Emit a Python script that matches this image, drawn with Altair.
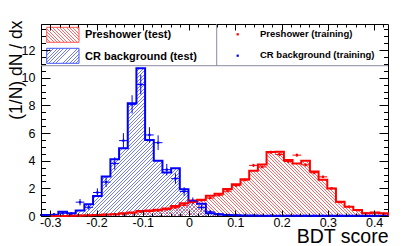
import altair as alt
import pandas as pd

# ---------------- data ----------------
x_lo, x_hi = -0.32, 0.43
n_bins = 40
y_max = 13.88

blue_test = [0.07, 0.07, 0.30, 0.20, 0.40, 0.85, 1.45, 2.85, 4.10, 4.90,
             8.15, 10.68, 5.50, 4.00, 3.15, 3.45, 1.93, 1.05, 0.88, 0.19,
             0.12, 0.07, 0.05, 0.04, 0.03, 0.02, 0.02, 0.02, 0.02, 0.02,
             0.02, 0.02, 0.01, 0.01, 0.01, 0.01, 0.01, 0.01, 0.01, 0.01]

red_test = [0.0, 0.0, 0.0, 0.02, 0.03, 0.05, 0.08, 0.10, 0.12, 0.20,
            0.26, 0.36, 0.40, 0.45, 0.55, 0.72, 0.93, 1.12, 1.17, 1.47,
            1.60, 1.95, 2.30, 2.65, 3.28, 3.72, 4.63, 4.65, 4.05, 3.80,
            4.00, 3.22, 2.62, 1.98, 1.03, 0.66, 0.44, 0.20, 0.25, 0.20]

blue_train = [0.03, 0.12, 0.20, 0.17, 1.00, 0.63, 1.70, 2.45, 3.80, 5.45,
              8.07, 9.50, 5.86, 5.30, 3.35, 2.70, 1.77, 1.10, 0.62, 0.30,
              0.12, 0.08, 0.05, 0.03, 0.02, 0.02, 0.02, 0.01, 0.01, 0.01,
              0.01, 0.01, 0.01, 0.01, 0.01, 0.01, 0.01, 0.01, 0.01, 0.01]
blue_err = [0.04, 0.08, 0.10, 0.10, 0.23, 0.18, 0.30, 0.36, 0.45, 0.54,
            0.66, 0.71, 0.56, 0.53, 0.42, 0.38, 0.31, 0.24, 0.18, 0.13,
            0.08, 0.06, 0.05, 0.04, 0.03, 0.03, 0.03, 0.02, 0.02, 0.02,
            0.02, 0.02, 0.02, 0.02, 0.02, 0.02, 0.02, 0.02, 0.02, 0.02]

red_train = [None, None, None, 0.01, 0.02, 0.04, 0.06, 0.09, 0.13, 0.15,
             0.22, 0.30, 0.33, 0.38, 0.47, 0.60, 0.78, 0.98, 1.12, 1.30,
             1.50, 1.80, 2.20, 2.60, 3.66, 3.55, 4.60, 4.45, 3.94, 4.40,
             3.70, 3.13, 2.83, 2.00, 1.00, 0.68, 0.42, 0.20, 0.20, 0.17]
red_err = [0.0, 0.0, 0.0, 0.01, 0.01, 0.01, 0.02, 0.02, 0.02, 0.03,
           0.03, 0.03, 0.04, 0.04, 0.04, 0.05, 0.05, 0.06, 0.06, 0.07,
           0.07, 0.08, 0.09, 0.10, 0.11, 0.11, 0.13, 0.13, 0.12, 0.13,
           0.12, 0.11, 0.10, 0.08, 0.06, 0.05, 0.04, 0.03, 0.03, 0.03]

x_major = [-0.3, -0.2, -0.1, 0.0, 0.1, 0.2, 0.3, 0.4]
x_minor = [round(x_lo + 0.02 * i, 2) for i in range(38)]
y_major = [0, 2, 4, 6, 8, 10, 12]
y_minor = [0.5 * i for i in range(28)]

legend_left = ["Preshower (test)", "CR background (test)"]
legend_right = ["Preshower (training)", "CR background (training)"]
x_title = "BDT score"
y_title = "(1/N) dN / dx"

# ---------------- helpers ----------------
W, H = 347, 192
FONT = "Liberation Sans"
RED, BLUE = "#ff0000", "#0000ff"
RED_HATCH, BLUE_HATCH = "#ff6a6a", "#7480ee"

bw = (x_hi - x_lo) / n_bins
edges = [round(x_lo + bw * i, 6) for i in range(n_bins + 1)]
centers = [round(e + bw / 2, 6) for e in edges[:-1]]

xs = alt.Scale(domain=[x_lo, x_hi], nice=False, zero=False)
ys = alt.Scale(domain=[0, y_max], nice=False, zero=False)


def hatch(color, w, h, period, slash):
    n = max(1, int(round((w + h) / period)))
    lw = 1.0 / period
    clear = "rgba(255,255,255,0)"
    stops = []
    for k in range(n):
        a = round(k / n, 6)
        b = round((k + lw) / n, 6)
        c = round((k + 1) / n, 6)
        stops += [{"offset": a, "color": color}, {"offset": b, "color": color},
                  {"offset": b, "color": clear}, {"offset": c, "color": clear}]
    s = (w + h) / (w * w + h * h)
    if slash:
        return {"gradient": "linear", "x1": 0, "y1": 0, "x2": w * s, "y2": h * s, "stops": stops}
    return {"gradient": "linear", "x1": 0, "y1": 1, "x2": w * s, "y2": 1 - h * s, "stops": stops}


def step_df(vals):
    return pd.DataFrame({"x": edges, "y": vals + [vals[-1]]})


def outline_df(vals):
    xx = [edges[0]] + edges + [edges[-1]]
    yy = [0.0] + vals + [vals[-1]] + [0.0]
    return pd.DataFrame({"x": xx, "y": yy, "i": list(range(len(xx)))})


def points_df(vals, errs):
    rows = []
    for i, v in enumerate(vals):
        if v is None:
            continue
        rows.append({"x": centers[i], "lo": edges[i], "hi": edges[i + 1], "y": v,
                     "ylo": max(0.0, v - errs[i]), "yhi": v + errs[i]})
    return pd.DataFrame(rows)


def tick_axis(orient, values, size):
    return alt.Axis(orient=orient, values=values, labels=False, domain=False, grid=False,
                    ticks=True, tickSize=size, offset=-size, tickColor="black",
                    tickWidth=1, title="", zindex=1)


NOAX = None

x_label_axis = alt.Axis(
    orient="bottom", values=x_major,
    labelExpr="datum.value == 0 ? '0' : (datum.value < 0 ? '-' : '') + format(abs(datum.value), '.1f')",
    ticks=False, tickSize=0, domain=False, grid=False,
    labelFont=FONT, labelFontSize=12.5, labelColor="black", labelPadding=0,
    title=x_title, titleFont=FONT, titleFontSize=19.5, titleFontWeight="normal",
    titleColor="black", titleX=W, titleY=26.5, titleAlign="right",
    titleBaseline="alphabetic", titleAnchor="end")

y_label_axis = alt.Axis(
    orient="left", values=y_major, ticks=False, tickSize=0, domain=False, grid=False,
    labelFont=FONT, labelFontSize=12.5, labelColor="black", labelPadding=6,
    title=y_title, titleFont=FONT, titleFontSize=17.5, titleFontWeight="normal",
    titleColor="black", titleX=-20, titleY=-4, titleAlign="right", titleAngle=270,
    titleBaseline="alphabetic")


def X(field, axis):
    if axis is None:
        return alt.X(field, type="quantitative", scale=xs, axis=None)
    return alt.X(field, type="quantitative", scale=xs, axis=axis)


def Y(field, axis):
    if axis is None:
        return alt.Y(field, type="quantitative", scale=ys, axis=None)
    return alt.Y(field, type="quantitative", scale=ys, axis=axis)


red_px = max(red_test) / y_max * H
blue_px = max(blue_test) / y_max * H

red_area = alt.Chart(step_df(red_test)).mark_area(
    interpolate="step-after", fill=hatch(RED_HATCH, W, red_px, 3.3, False)
).encode(x=X("x", x_label_axis), y=Y("y", y_label_axis))

blue_area = alt.Chart(step_df(blue_test)).mark_area(
    interpolate="step-after", fill=hatch(BLUE_HATCH, W, blue_px, 3.5, True)
).encode(x=X("x", tick_axis("bottom", x_major, 6)), y=Y("y", tick_axis("left", y_major, 9)))

blue_line = alt.Chart(outline_df(blue_test)).mark_line(
    interpolate="step-after", color=BLUE, strokeWidth=2
).encode(x=X("x", tick_axis("bottom", x_minor, 3)), y=Y("y", tick_axis("left", y_minor, 4.5)),
         order="i:Q")

red_line = alt.Chart(outline_df(red_test)).mark_line(
    interpolate="step-after", color=RED, strokeWidth=2
).encode(x=X("x", tick_axis("top", x_major, 6)), y=Y("y", tick_axis("right", y_major, 9)),
         order="i:Q")

bp = points_df(blue_train, blue_err)
rp = points_df(red_train, red_err)

blue_h = alt.Chart(bp).mark_rule(color=BLUE, strokeWidth=1).encode(
    x=X("lo", tick_axis("top", x_minor, 3)), x2="hi", y=Y("y", tick_axis("right", y_minor, 4.5)))
blue_v = alt.Chart(bp).mark_rule(color=BLUE, strokeWidth=1).encode(
    x=X("x", NOAX), y=Y("ylo", NOAX), y2="yhi")
blue_p = alt.Chart(bp).mark_square(color=BLUE, size=5, opacity=1).encode(
    x=X("x", NOAX), y=Y("y", NOAX))

red_h = alt.Chart(rp).mark_rule(color=RED, strokeWidth=1).encode(
    x=X("lo", NOAX), x2="hi", y=Y("y", NOAX))
red_v = alt.Chart(rp).mark_rule(color=RED, strokeWidth=1).encode(
    x=X("x", NOAX), y=Y("ylo", NOAX), y2="yhi")
red_p = alt.Chart(rp).mark_square(color=RED, size=5, opacity=1).encode(
    x=X("x", NOAX), y=Y("y", NOAX))

# ---------------- legend ----------------
one = pd.DataFrame({"k": [0]})
LEG_LINE = "#8a8aa0"

leg_hline = alt.Chart(one).mark_rule(color=LEG_LINE, strokeWidth=1).encode(
    x=alt.value(0), x2=alt.value(W), y=alt.value(41.7))
leg_vline = alt.Chart(one).mark_rule(color=LEG_LINE, strokeWidth=1).encode(
    x=alt.value(175.7), y=alt.value(0), y2=alt.value(41.7))

box_w, box_h = 32.3, 15.0
leg_red_box = alt.Chart(one).mark_rect(
    fill=hatch(RED_HATCH, box_w, box_h, 3.3, False), stroke="#ff5555", strokeWidth=1
).encode(x=alt.value(5.7), x2=alt.value(5.7 + box_w), y=alt.value(3.3), y2=alt.value(3.3 + box_h))
leg_blue_box = alt.Chart(one).mark_rect(
    fill=hatch(BLUE_HATCH, box_w, box_h, 3.5, True), stroke="#4455ff", strokeWidth=1
).encode(x=alt.value(5.7), x2=alt.value(5.7 + box_w), y=alt.value(24.3), y2=alt.value(24.3 + box_h))

leg_t1 = alt.Chart(one).mark_text(align="left", baseline="middle", font=FONT, fontWeight="bold",
                                  fontSize=11, color="black").encode(
    x=alt.value(44), y=alt.value(11.3), text=alt.value(legend_left[0]))
leg_t2 = alt.Chart(one).mark_text(align="left", baseline="middle", font=FONT, fontWeight="bold",
                                  fontSize=11, color="black").encode(
    x=alt.value(44), y=alt.value(32.8), text=alt.value(legend_left[1]))
leg_t3 = alt.Chart(one).mark_text(align="left", baseline="middle", font=FONT, fontWeight="bold",
                                  fontSize=9.5, color="black").encode(
    x=alt.value(219), y=alt.value(10.3), text=alt.value(legend_right[0]))
leg_t4 = alt.Chart(one).mark_text(align="left", baseline="middle", font=FONT, fontWeight="bold",
                                  fontSize=9.5, color="black").encode(
    x=alt.value(219), y=alt.value(31.2), text=alt.value(legend_right[1]))
leg_d1 = alt.Chart(one).mark_square(color=RED, size=5, opacity=1).encode(
    x=alt.value(196.7), y=alt.value(10.3))
leg_d2 = alt.Chart(one).mark_square(color=BLUE, size=5, opacity=1).encode(
    x=alt.value(196.7), y=alt.value(31.7))

chart = alt.layer(
    red_area, blue_area, blue_line, red_line,
    blue_h, blue_v, blue_p, red_h, red_v, red_p,
    leg_hline, leg_vline, leg_red_box, leg_blue_box,
    leg_t1, leg_t2, leg_t3, leg_t4, leg_d1, leg_d2,
).resolve_axis(x="independent", y="independent").properties(
    width=W, height=H,
    autosize=alt.AutoSizeParams(type="none"),
    padding={"left": 33, "top": 16, "right": 13, "bottom": 38},
    background="white",
).configure_view(stroke="black", strokeWidth=1)

chart.save("out.html", embed_options={"renderer": "svg", "actions": False})
